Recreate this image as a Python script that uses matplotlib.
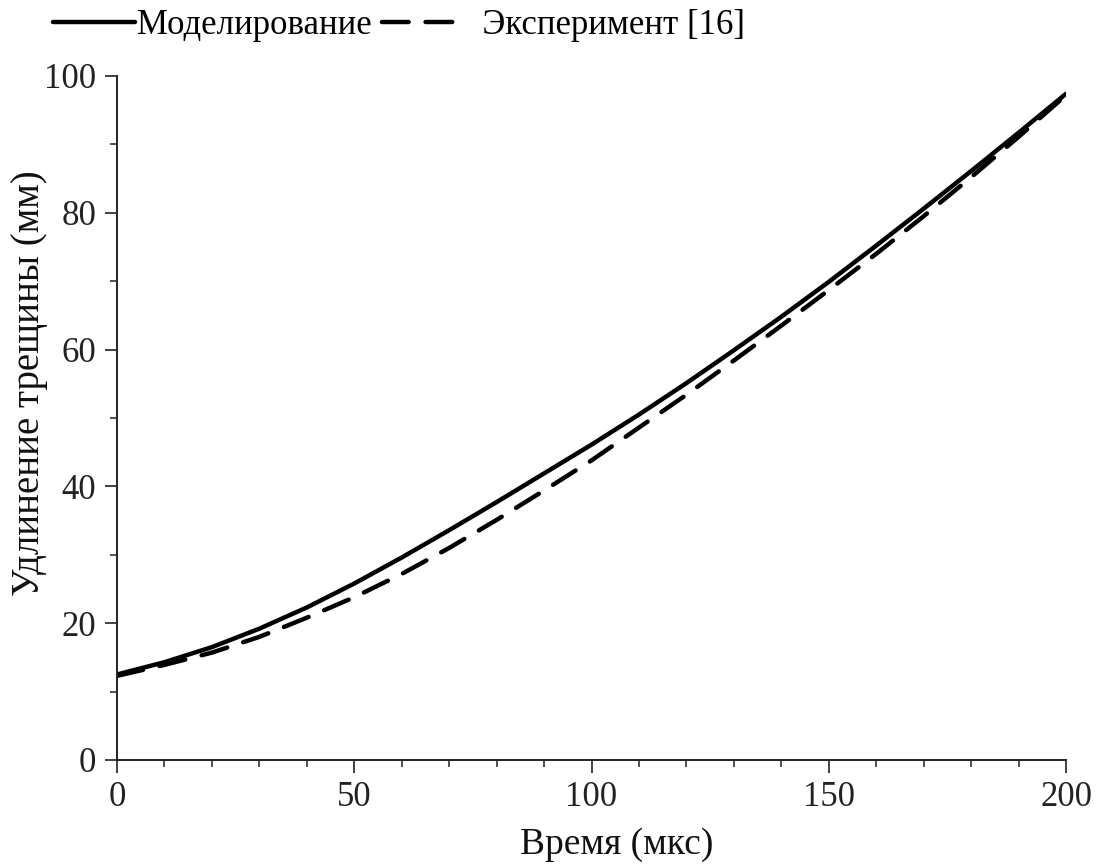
import matplotlib
matplotlib.use("Agg")
import matplotlib.pyplot as plt
from matplotlib.ticker import MultipleLocator

plt.rcParams['font.family'] = ['Liberation Serif', 'DejaVu Serif']

time_us = [0, 10, 20, 30, 40, 50, 60, 70, 80, 90, 100,
           110, 120, 130, 140, 150, 160, 170, 180, 190, 200]
model_mm = [12.5, 14.3, 16.5, 19.2, 22.3, 25.8, 29.6, 33.6, 37.7, 41.9, 46.1,
            50.5, 55.1, 59.9, 64.8, 69.9, 75.2, 80.6, 86.1, 91.7, 97.4]
exp_mm = [12.3, 13.9, 15.7, 18.0, 20.8, 23.8, 27.2, 31.0, 35.1, 39.4, 43.8,
          48.6, 53.4, 58.4, 63.5, 68.7, 74.0, 79.5, 85.2, 91.1, 97.2]

label_model = "Моделирование"
label_exp = "\u2002Эксперимент [16]"
xlabel = "Время (мкс)"
ylabel = "Удлинение трещины (мм)"

fig = plt.figure(figsize=(10.96, 8.65), dpi=100)
ax = fig.add_axes([117/1096, 1 - 760/865, (1066-117)/1096, (760-76)/865])

ax.plot(time_us, model_mm, color='black', lw=3.2, solid_capstyle='round',
        solid_joinstyle='round', label=label_model)
ax.plot(time_us, exp_mm, color='black', lw=3.2, dashes=(6.0, 3.8),
        dash_capstyle='round', label=label_exp)

ax.set_xlim(0, 200)
ax.set_ylim(0, 100)
ax.xaxis.set_major_locator(MultipleLocator(50))
ax.xaxis.set_minor_locator(MultipleLocator(10))
ax.yaxis.set_major_locator(MultipleLocator(20))
ax.yaxis.set_minor_locator(MultipleLocator(10))

for s in ['top', 'right']:
    ax.spines[s].set_visible(False)
for s in ['left', 'bottom']:
    ax.spines[s].set_linewidth(1.4)
    ax.spines[s].set_color('#222222')

ax.tick_params(which='major', direction='out', length=9, width=1.2,
               labelsize=25, colors='#222222', pad=6)
ax.tick_params(which='minor', direction='out', length=5, width=1.1,
               colors='#222222')

ax.set_xlabel(xlabel, fontsize=27, color='#111111')
ax.xaxis.set_label_coords((617 - 117) / 949, -(845 - 760) / 684)
ax.xaxis.label.set_va('center')
ax.set_ylabel(ylabel, fontsize=28, color='#111111')
ax.yaxis.set_label_coords(-(117 - 48) / 949, (760 - 383) / 684)

fig.legend(loc='upper left', bbox_to_anchor=(50/1096, 1 - 6/865), ncol=2,
           frameon=False, fontsize=25, handlelength=2.35, handletextpad=0.05,
           columnspacing=0.3, borderaxespad=0.0, borderpad=0.1)

fig.savefig("out.png", dpi=100, facecolor='white')
